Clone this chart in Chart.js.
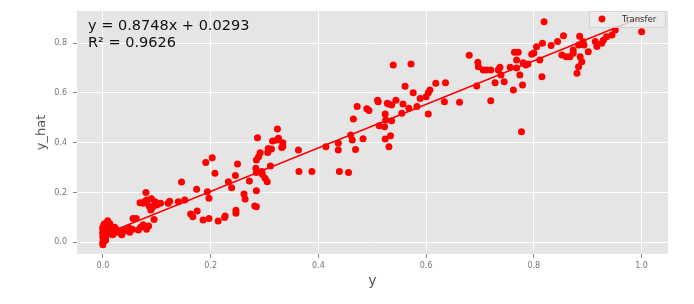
<!DOCTYPE html>
<html lang="en">
<head>
    <meta charset="UTF-8">
    <title>y vs y_hat</title>
    <style>
        body {
            margin: 0;
            background: #ffffff;
        }
        .wrap {
            width: 694px;
            height: 304px;
        }
    </style>
</head>
<body>
    <div class="wrap">
        <canvas id="chart" width="694" height="304"></canvas>
    </div>

    <script src="https://cdn.jsdelivr.net/npm/chart.js"></script>
    <script>
        // observed y vs predicted y_hat
        const xVals = [
            0.0, 0.0, 0.001, 0.0, 0.002, 0.0, 0.001, 0.0, 0.003, 0.002, 0.004, 0.001, 0.003, 0.005, 0.006,
            0.004, 0.002, 0.007, 0.008, 0.009, 0.01, 0.012, 0.013, 0.015, 0.016, 0.005, 0.0, 0.001, 0.0, 0.003,
            0.02, 0.025, 0.028, 0.032, 0.036, 0.04, 0.045, 0.05, 0.055, 0.056, 0.062, 0.066, 0.07, 0.075, 0.081,
            0.085, 0.022, 0.018, 0.048, 0.035,
            0.069, 0.075, 0.08, 0.082, 0.086, 0.089, 0.092, 0.095, 0.097, 0.1, 0.107, 0.121, 0.124, 0.14, 0.146,
            0.152, 0.078, 0.09,
            0.163, 0.167, 0.174, 0.175, 0.186, 0.191, 0.194, 0.197, 0.197, 0.203, 0.208, 0.214, 0.226, 0.227, 0.233,
            0.239, 0.246, 0.247, 0.247, 0.25, 0.262, 0.264, 0.272, 0.282, 0.285, 0.285, 0.284, 0.285, 0.285, 0.289,
            0.292, 0.287, 0.295, 0.296, 0.301, 0.305, 0.306, 0.307, 0.311, 0.313, 0.315, 0.323, 0.324, 0.326, 0.332,
            0.334, 0.334,
            0.363, 0.364, 0.388, 0.414, 0.437, 0.437, 0.439, 0.456, 0.46, 0.463, 0.465, 0.469, 0.472, 0.483, 0.49,
            0.494, 0.51, 0.511, 0.513, 0.524, 0.523, 0.528, 0.524, 0.531, 0.534, 0.525, 0.536, 0.536, 0.539, 0.544,
            0.53,
            0.555, 0.557, 0.561, 0.568, 0.572, 0.576, 0.583, 0.589, 0.6, 0.604, 0.607, 0.604, 0.618, 0.634, 0.636,
            0.662, 0.68, 0.696, 0.697, 0.694, 0.706, 0.712, 0.72, 0.72, 0.728, 0.734, 0.737, 0.739, 0.745,
            0.756, 0.762, 0.764, 0.771, 0.768, 0.768, 0.774, 0.779, 0.777, 0.78, 0.789, 0.796, 0.8, 0.805, 0.811,
            0.815, 0.816, 0.819, 0.832, 0.844, 0.855, 0.852, 0.86, 0.867, 0.873, 0.873, 0.88, 0.883, 0.883, 0.885,
            0.889, 0.891, 0.893, 0.901, 0.914, 0.917, 0.926, 0.929, 0.935, 0.945, 0.951, 1.0, 0.886, 0.785
        ];
        const yVals = [
            -0.01, 0.0, 0.01, 0.02, 0.03, 0.04, 0.05, 0.06, 0.015, 0.045, 0.035, 0.025, 0.055, 0.02, 0.04,
            0.065, 0.07, 0.03, 0.05, 0.087, 0.06, 0.04, 0.075, 0.045, 0.055, 0.008, 0.033, 0.004, 0.052, 0.075,
            0.035, 0.05, 0.042, 0.038, 0.048, 0.045, 0.05, 0.04, 0.052, 0.096, 0.096, 0.049, 0.06, 0.07, 0.052,
            0.065, 0.06, 0.03, 0.058, 0.03,
            0.159, 0.157, 0.2, 0.17, 0.145, 0.13, 0.14, 0.092, 0.163, 0.15, 0.157, 0.157, 0.165, 0.163, 0.242,
            0.17, 0.165, 0.175,
            0.114, 0.103, 0.213, 0.126, 0.09, 0.321, 0.203, 0.096, 0.177, 0.34, 0.277, 0.086, 0.1, 0.106, 0.243,
            0.219, 0.268, 0.117, 0.129, 0.314, 0.194, 0.174, 0.246, 0.146, 0.143, 0.207, 0.297, 0.28, 0.331, 0.344,
            0.36, 0.42, 0.284, 0.273, 0.257, 0.243, 0.361, 0.377, 0.306, 0.375, 0.407, 0.411, 0.455, 0.418, 0.381,
            0.4, 0.385,
            0.371, 0.284, 0.284, 0.384, 0.398, 0.371, 0.284, 0.28, 0.431, 0.411, 0.495, 0.373, 0.545, 0.416, 0.536,
            0.529, 0.571, 0.565, 0.468, 0.515, 0.464, 0.558, 0.415, 0.384, 0.428, 0.491, 0.551, 0.488, 0.712, 0.571,
            0.555,
            0.518, 0.555, 0.627, 0.538, 0.716, 0.601, 0.545, 0.578, 0.585, 0.601, 0.612, 0.515, 0.639, 0.565, 0.641,
            0.563, 0.751, 0.723, 0.705, 0.628, 0.692, 0.692, 0.692, 0.569, 0.641, 0.692, 0.703, 0.672, 0.645,
            0.703, 0.612, 0.763, 0.763, 0.732, 0.7, 0.672, 0.632, 0.444, 0.721, 0.716, 0.755, 0.76, 0.785, 0.732,
            0.665, 0.799, 0.886, 0.79, 0.806, 0.83, 0.752, 0.745, 0.745, 0.759, 0.772, 0.679, 0.705, 0.792, 0.828,
            0.725, 0.806, 0.792, 0.765, 0.806, 0.786, 0.799, 0.812, 0.826, 0.833, 0.853, 0.846, 0.745, 0.712
        ];

        // fitted line end points (y = 0.8748x + 0.0293)
        const fitX = [0.0, 1.0];
        const fitY = [0.0293, 0.9041];

        const xTicks = [0.0, 0.2, 0.4, 0.6, 0.8, 1.0];
        const yTicks = [0.0, 0.2, 0.4, 0.6, 0.8];

        const eqLines = ['y = 0.8748x + 0.0293', 'R\u00b2 = 0.9626'];
        const seriesName = 'Transfer';

        const points = xVals.map((x, i) => ({ x: x, y: yVals[i] }));
        const fitPoints = fitX.map((x, i) => ({ x: x, y: fitY[i] }));

        // grey panel behind the plot
        const panelBg = {
            id: 'panelBg',
            beforeDraw(chart) {
                const { ctx, chartArea: a } = chart;
                ctx.save();
                ctx.fillStyle = '#e5e5e5';
                ctx.fillRect(a.left, a.top, a.right - a.left, a.bottom - a.top);
                ctx.restore();
            }
        };

        // equation text + legend box
        const overlay = {
            id: 'overlay',
            afterDraw(chart) {
                const { ctx, chartArea: a } = chart;
                ctx.save();
                ctx.fillStyle = '#111';
                ctx.font = '14.5px "DejaVu Sans"';
                ctx.textBaseline = 'alphabetic';
                ctx.fillText(eqLines[0], a.left + 11, 30);
                ctx.fillText(eqLines[1], a.left + 11, 47);

                // legend
                const bx = 589, by = 11, bw = 76, bh = 16;
                ctx.fillStyle = 'rgba(236,236,236,0.8)';
                ctx.strokeStyle = 'rgba(205,205,205,0.8)';
                ctx.lineWidth = 1;
                ctx.beginPath();
                ctx.rect(bx + 0.5, by + 0.5, bw, bh);
                ctx.fill();
                ctx.stroke();
                ctx.fillStyle = '#ff0000';
                ctx.beginPath();
                ctx.arc(602, 19, 3.4, 0, Math.PI * 2);
                ctx.fill();
                ctx.fillStyle = '#333';
                ctx.font = '8.5px "DejaVu Sans"';
                ctx.textBaseline = 'middle';
                ctx.fillText(seriesName, 622, 19.5);
                ctx.restore();
            }
        };

        const tickFont = { family: 'DejaVu Sans', size: 8 };

        new Chart(document.getElementById('chart').getContext('2d'), {
            type: 'scatter',
            data: {
                datasets: [{
                    label: seriesName,
                    data: points,
                    backgroundColor: '#ff0000',
                    borderColor: '#ff0000',
                    borderWidth: 0,
                    pointRadius: 3.5,
                    order: 2
                }, {
                    type: 'line',
                    label: 'fit',
                    data: fitPoints,
                    borderColor: '#ff0000',
                    borderWidth: 1.5,
                    pointRadius: 0,
                    fill: false,
                    order: 1
                }]
            },
            options: {
                responsive: false,
                animation: false,
                layout: { padding: { top: 11, right: 26, left: 0, bottom: 0 } },
                plugins: {
                    legend: { display: false },
                    tooltip: { enabled: false }
                },
                scales: {
                    x: {
                        type: 'linear',
                        min: -0.048,
                        max: 1.049,
                        afterFit: s => { s.height = 50; },
                        afterBuildTicks: s => { s.ticks = xTicks.map(v => ({ value: v })); },
                        border: { display: false },
                        grid: { color: '#ffffff', lineWidth: 1, tickColor: '#888', tickLength: 4 },
                        ticks: {
                            color: '#777',
                            font: tickFont,
                            padding: 3,
                            maxRotation: 0,
                            callback: v => v.toFixed(1)
                        },
                        title: {
                            display: true,
                            text: 'y',
                            color: '#555',
                            font: { family: 'DejaVu Sans', size: 14 },
                            padding: { top: 0, bottom: 14 }
                        }
                    },
                    y: {
                        type: 'linear',
                        min: -0.047,
                        max: 0.929,
                        afterFit: s => { s.width = 77; },
                        afterBuildTicks: s => { s.ticks = yTicks.map(v => ({ value: v })); },
                        border: { display: false },
                        grid: { color: '#ffffff', lineWidth: 1, tickColor: '#888', tickLength: 4 },
                        ticks: {
                            color: '#777',
                            font: tickFont,
                            padding: 6,
                            callback: v => v.toFixed(1)
                        },
                        title: {
                            display: true,
                            text: 'y_hat',
                            color: '#555',
                            font: { family: 'DejaVu Sans', size: 13 },
                            padding: { top: 34, bottom: 0 }
                        }
                    }
                }
            },
            plugins: [panelBg, overlay]
        });
    </script>
</body>
</html>
